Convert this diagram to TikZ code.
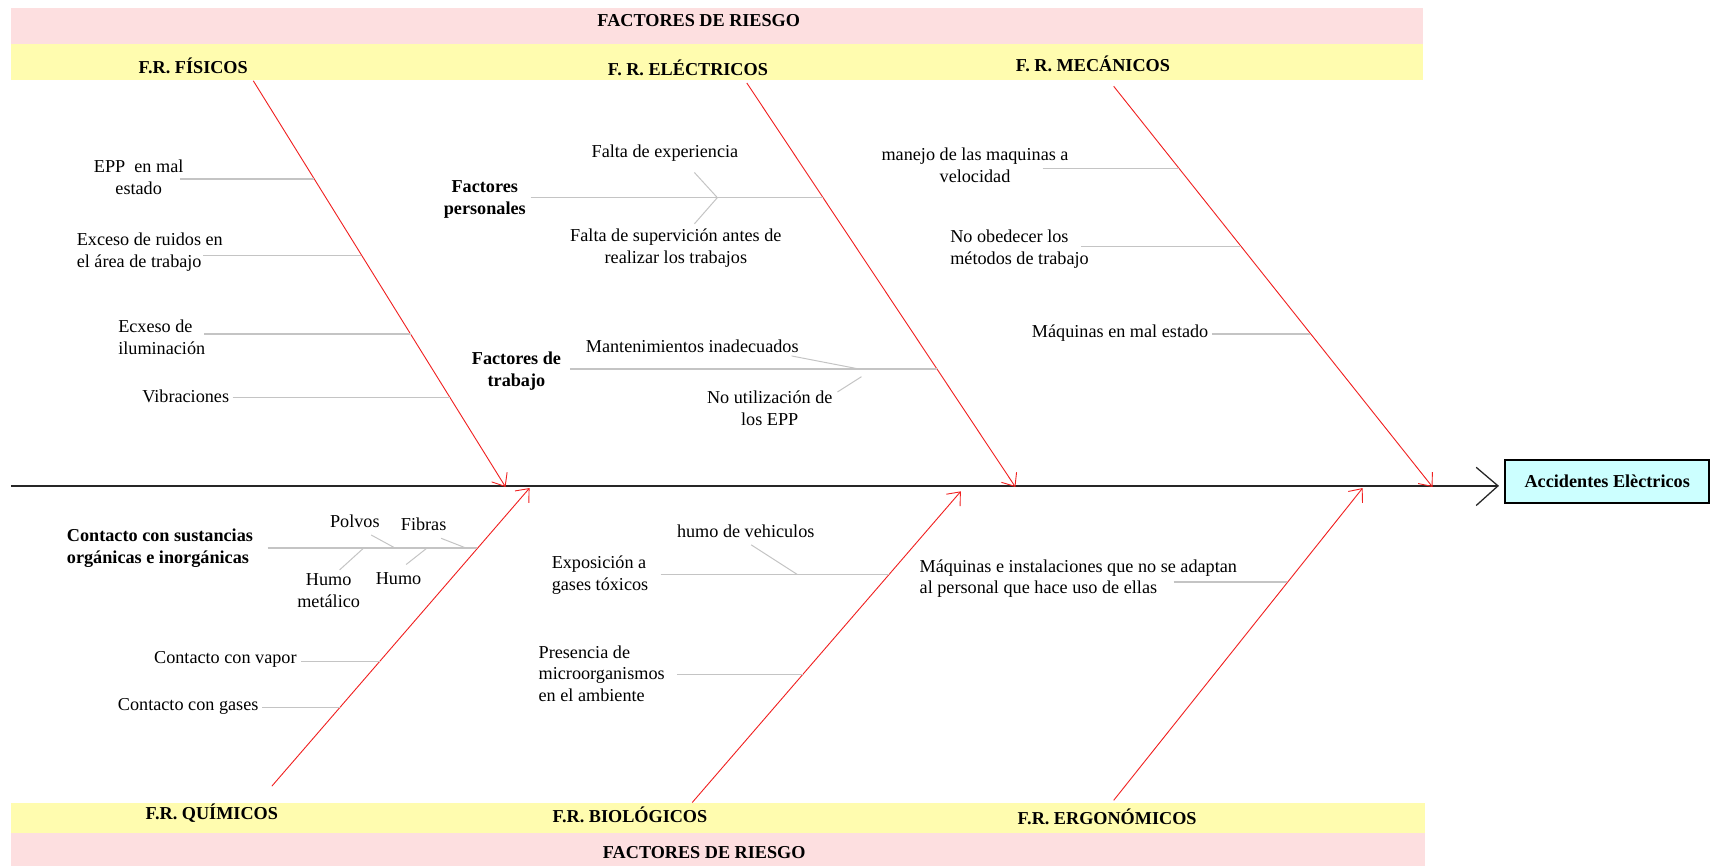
\documentclass[tikz,border=0pt]{standalone}
\usepackage{fontspec}
\setmainfont{Liberation Serif}
\usetikzlibrary{arrows.meta}
\definecolor{pinkband}{HTML}{FDDFE0}
\definecolor{yellowband}{HTML}{FFFCAF}
\definecolor{boxcyan}{HTML}{CCFFFF}
\definecolor{branchgray}{HTML}{C4C4C4}
\definecolor{bonered}{HTML}{F02020}
\tikzset{
  lbl/.style={font=\fontsize{10}{12}\selectfont, inner sep=0pt},
  blbl/.style={font=\fontsize{10}{12}\selectfont\bfseries, inner sep=0pt},
  hdr/.style={font=\fontsize{10}{12}\selectfont\bfseries, inner sep=0pt},
  pinkfill/.style={fill=pinkband},
  yellowfill/.style={fill=yellowband},
  branch/.style={draw=branchgray, line width=0.7pt},
  subbranch/.style={draw=branchgray, line width=0.55pt},
  bone/.style={draw=bonered, line width=0.5pt, -{Straight Barb[length=6pt,width=10pt]}},
  spine/.style={draw=black!85, line width=1.1pt},
  chevron/.style={draw=black!85, line width=0.7pt},
  effbox/.style={draw=black, line width=1.1pt, fill=boxcyan, font=\fontsize{10}{12}\selectfont\bfseries,
    minimum width=112pt, minimum height=24pt, inner sep=2pt}
}
\begin{document}
\begin{tikzpicture}[x=0.6pt,y=-0.6pt]
\useasboundingbox (0,0) rectangle (1568,793);
% bands
\fill[pinkfill] (10,7) rectangle (1303,40);
\fill[yellowfill] (10,40) rectangle (1303,73);
\fill[yellowfill] (10,735) rectangle (1305,763);
\fill[pinkfill] (10,763) rectangle (1305,793);
\node[hdr] (topTitle) at (640,19) {FACTORES DE RIESGO};
\node[hdr] (botTitle) at (645,781) {FACTORES DE RIESGO};
\node[hdr] (hFis) at (177,60) {F.R. FÍSICOS};
\node[hdr] (hEle) at (630,62) {F. R. ELÉCTRICOS};
\node[hdr] (hMec) at (1001,58) {F. R. MECÁNICOS};
\node[hdr] (hQui) at (194,745) {F.R. QUÍMICOS};
\node[hdr] (hBio) at (577,746) {F.R. BIOLÓGICOS};
\node[hdr] (hErg) at (1014,748) {F.R. ERGONÓMICOS};

% effect box and spine
\node[effbox] (acc) at (1472,441) {Accidentes Elèctricos};
\coordinate (sp0) at (10,445);
\coordinate (spTip) at (1372,445);
\draw[spine] (sp0) -- (spTip);
\draw[chevron] (1352,428) -- (spTip) -- (1352,463);

% bones
\coordinate (f0) at (232,74);   \coordinate (f1) at (463,446);
\coordinate (e0) at (684,76);   \coordinate (e1) at (930,446);
\coordinate (m0) at (1020,79);  \coordinate (m1) at (1312,446);
\coordinate (q0) at (249,720);  \coordinate (q1) at (485,447);
\coordinate (b0) at (634,735);  \coordinate (b1) at (880,450);
\coordinate (g0) at (1020,733); \coordinate (g1) at (1248,447);
\draw[bone] (f0) -- (f1);
\draw[bone] (e0) -- (e1);
\draw[bone] (m0) -- (m1);
\draw[bone] (q0) -- (q1);
\draw[bone] (b0) -- (b1);
\draw[bone] (g0) -- (g1);

% ---- Fisicos
\node[lbl, align=center] (epp) at (127,162) {EPP~~en mal\\estado};
\node[lbl, anchor=west, align=left] (ruido) at (70,231) {Exceso de ruidos en\\el área de trabajo};
\node[lbl, anchor=west, align=left] (ilum) at (108,309) {Ecxeso de\\iluminación};
\node[lbl, anchor=west] (vib) at (130,363) {Vibraciones};
\coordinate (eppS) at (165,164);  \coordinate (eppE) at (288,164);
\coordinate (ruiS) at (186,234);  \coordinate (ruiE) at (331,234);
\coordinate (ilmS) at (187,306);  \coordinate (ilmE) at (376,306);
\coordinate (vibS) at (213,364);  \coordinate (vibE) at (412,364);
\draw[branch] (eppS) -- (eppE);
\draw[branch] (ruiS) -- (ruiE);
\draw[branch] (ilmS) -- (ilmE);
\draw[branch] (vibS) -- (vibE);

% ---- Electricos
\node[blbl, align=center] (fpers) at (444,183) {Factores\\personales};
\node[lbl] (fexp) at (609,140) {Falta de experiencia};
\node[lbl, align=center] (fsup) at (619,227) {Falta de supervición antes de\\realizar los trabajos};
\node[blbl, align=center] (ftrab) at (473,340) {Factores de\\trabajo};
\node[lbl] (mant) at (634,317) {Mantenimientos inadecuados};
\node[lbl, align=center] (noepp) at (705,374) {No utilización de\\los EPP};
\coordinate (perS) at (486,181);  \coordinate (perE) at (754,181);
\coordinate (perJ) at (657,181);
\coordinate (expS) at (636,158);
\coordinate (supS) at (636,205);
\coordinate (traS) at (522,338);  \coordinate (traE) at (858,338);
\coordinate (mntS) at (725,326);  \coordinate (mntE) at (787,338);
\coordinate (nuS) at (767,359);   \coordinate (nuE) at (789,345);
\draw[branch] (perS) -- (perE);
\draw[subbranch] (expS) -- (perJ);
\draw[subbranch] (supS) -- (perJ);
\draw[branch] (traS) -- (traE);
\draw[subbranch] (mntS) -- (mntE);
\draw[subbranch] (nuS) -- (nuE);

% ---- Mecanicos
\node[lbl, align=center] (manejo) at (893,151) {manejo de las maquinas a\\velocidad};
\node[lbl, anchor=west, align=left] (noobe) at (870,228) {No obedecer los\\métodos de trabajo};
\node[lbl, anchor=east] (maqmal) at (1107,305) {Máquinas en mal estado};
\coordinate (manS) at (955,154);  \coordinate (manE) at (1080,154);
\coordinate (obeS) at (990,226);  \coordinate (obeE) at (1137,226);
\coordinate (mmS) at (1110,306);  \coordinate (mmE) at (1200,306);
\draw[branch] (manS) -- (manE);
\draw[branch] (obeS) -- (obeE);
\draw[branch] (mmS) -- (mmE);

% ---- Quimicos
\node[blbl, anchor=west, align=left] (cont) at (61,502) {Contacto con sustancias\\orgánicas e inorgánicas};
\node[lbl] (polvos) at (325,477) {Polvos};
\node[lbl] (fibras) at (388,480) {Fibras};
\node[lbl, align=center] (humomet) at (301,541) {Humo\\metálico};
\node[lbl] (humo) at (365,530) {Humo};
\node[lbl, anchor=east] (vapor) at (272,604) {Contacto con vapor};
\node[lbl, anchor=east] (gases) at (237,647) {Contacto con gases};
\coordinate (conS) at (245,502);  \coordinate (conE) at (437,502);
\coordinate (polS) at (340,490);  \coordinate (polE) at (362,502);
\coordinate (fibS) at (404,493);  \coordinate (fibE) at (427,502);
\coordinate (hmS) at (311,522);   \coordinate (hmE) at (333,502);
\coordinate (huS) at (372,517);   \coordinate (huE) at (391,502);
\coordinate (vapS) at (276,606);  \coordinate (vapE) at (348,606);
\coordinate (gasS) at (240,648);  \coordinate (gasE) at (311,648);
\draw[branch] (conS) -- (conE);
\draw[subbranch] (polS) -- (polE);
\draw[subbranch] (fibS) -- (fibE);
\draw[subbranch] (hmS) -- (hmE);
\draw[subbranch] (huS) -- (huE);
\draw[branch] (vapS) -- (vapE);
\draw[branch] (gasS) -- (gasE);

% ---- Biologicos
\node[lbl] (humoveh) at (683,487) {humo de vehiculos};
\node[lbl, anchor=west, align=left] (expo) at (505,527) {Exposición a\\gases tóxicos};
\node[lbl, anchor=west, align=left] (pres) at (493,617) {Presencia de\\microorganismos\\en el ambiente};
\coordinate (hvS) at (688,499);   \coordinate (hvE) at (730,526);
\coordinate (expS2) at (605,526); \coordinate (expE2) at (814,526);
\coordinate (preS) at (620,618);  \coordinate (preE) at (735,618);
\draw[subbranch] (hvS) -- (hvE);
\draw[branch] (expS2) -- (expE2);
\draw[branch] (preS) -- (preE);

% ---- Ergonomicos
\node[lbl, anchor=west, align=left] (maqinst) at (842,530) {Máquinas e instalaciones que no se adaptan\\al personal que hace uso de ellas};
\coordinate (miS) at (1075,533);  \coordinate (miE) at (1179,533);
\draw[branch] (miS) -- (miE);
\end{tikzpicture}
\end{document}
